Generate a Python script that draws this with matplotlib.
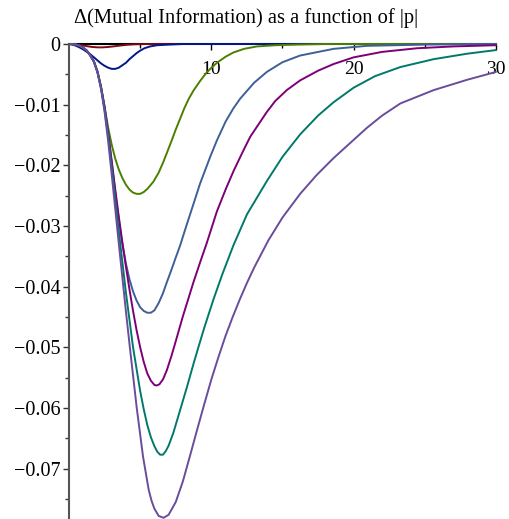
import numpy as np
import matplotlib
matplotlib.use("Agg")
import matplotlib.pyplot as plt
from matplotlib.ticker import FuncFormatter

# values, one curve per list
x_red = [0, 0.3, 0.6, 0.9, 1.24, 1.6, 2.0, 2.3, 2.7, 3.1, 3.6, 4.1, 4.6, 5.5, 30]
y_red = [0, -0.00003, -0.0001, -0.0002, -0.00035, -0.00048, -0.00055, -0.00056, -0.0005,
         -0.0004, -0.00025, -0.00013, -0.00005, 0, 0]

x_navy = [0, 0.25, 0.5, 0.77, 1.0, 1.25, 1.5, 1.75, 2.0, 2.25, 2.5, 2.75, 3.0, 3.25, 3.5, 3.75,
          4.0, 4.25, 4.5, 4.75, 5.0, 5.3, 5.7, 6.2, 7.0, 8.0, 30]
y_navy = [0, -0.0001, -0.0003, -0.0006, -0.0009, -0.0013, -0.0017, -0.0022, -0.0027, -0.0032,
          -0.0036, -0.0039, -0.0041, -0.0041, -0.0039, -0.0035, -0.0031, -0.0025, -0.0020,
          -0.0015, -0.0011, -0.0007, -0.0004, -0.0002, -0.0001, 0, 0]

x_green = [0, 0.25, 0.5, 0.75, 1.0, 1.25, 1.5, 1.75, 2.0, 2.25, 2.5, 2.75, 3.0, 3.25, 3.5, 3.75,
           4.0, 4.25, 4.5, 4.75, 5.0, 5.25, 5.5, 5.93, 6.3, 6.6, 6.87, 7.2, 7.5, 7.81, 8.1, 8.4,
           8.74, 9.21, 9.6, 9.92, 10.39, 11.0, 11.55, 12.3, 13.2, 14.5, 16, 18, 30]
y_green = [0, -0.00002, -0.0001, -0.0003, -0.0006, -0.0011, -0.0019, -0.0029, -0.0045, -0.0070,
           -0.0104, -0.0138, -0.0166, -0.0189, -0.0207, -0.0221, -0.0232, -0.0240, -0.0245,
           -0.0247, -0.0247, -0.0244, -0.0239, -0.0227, -0.0212, -0.0196, -0.0180, -0.0160,
           -0.0141, -0.0123, -0.0106, -0.0091, -0.0077, -0.0061, -0.0049, -0.0041, -0.0031,
           -0.0021, -0.0014, -0.0008, -0.0004, -0.0002, -0.0001, 0, 0]

x_steel = [0, 0.25, 0.5, 0.75, 1.0, 1.25, 1.5, 1.75, 2.0, 2.25, 2.5, 2.75, 3.0, 3.25, 3.5, 3.75,
           4.0, 4.25, 4.5, 4.75, 5.0, 5.25, 5.5, 5.75, 6.0, 6.3, 6.6, 6.87, 7.2, 7.5, 7.81, 8.2,
           8.63, 9.21, 9.92, 10.39, 11.0, 11.55, 12.03, 13.0, 13.9, 15.0, 16.24, 18.59, 20.94,
           25, 30]
y_steel = [0, -0.00002, -0.0001, -0.0003, -0.0006, -0.0011, -0.0019, -0.0029, -0.0046, -0.0071,
           -0.0103, -0.0145, -0.0195, -0.0245, -0.0290, -0.0330, -0.0362, -0.0388, -0.0408,
           -0.0423, -0.0434, -0.0440, -0.0443, -0.0443, -0.0439, -0.0427, -0.0411, -0.0393,
           -0.0372, -0.0352, -0.0332, -0.0303, -0.0272, -0.0230, -0.0186, -0.0159, -0.0128,
           -0.0106, -0.0090, -0.0064, -0.0046, -0.0030, -0.0019, -0.0008, -0.0003, -0.0001, 0]

x_purple = [0, 0.25, 0.5, 0.75, 1.0, 1.25, 1.5, 1.75, 2.0, 2.25, 2.5, 2.75, 3.0, 3.25, 3.5, 3.75,
            4.0, 4.25, 4.5, 4.75, 5.0, 5.25, 5.5, 5.75, 6.0, 6.15, 6.35, 6.6, 6.87, 7.2, 7.45,
            8.0, 8.74, 9.21, 9.68, 10.39, 11.0, 11.55, 12.2, 12.73, 13.9, 14.49, 15.3, 16.24,
            17.5, 18.59, 20.0, 22.0, 24.45, 27.0, 30]
y_purple = [0, -0.00002, -0.0001, -0.0003, -0.0006, -0.0011, -0.0019, -0.0029, -0.0046, -0.0072,
            -0.0105, -0.0147, -0.0193, -0.0240, -0.0285, -0.0327, -0.0367, -0.0405, -0.0440,
            -0.0472, -0.0500, -0.0524, -0.0543, -0.0555, -0.0562, -0.0563, -0.0561, -0.0553,
            -0.0538, -0.0514, -0.0494, -0.0449, -0.0393, -0.0360, -0.0328, -0.0276, -0.0240,
            -0.0210, -0.0178, -0.0153, -0.0112, -0.0094, -0.0076, -0.0060, -0.0044, -0.0033,
            -0.0022, -0.0013, -0.0007, -0.0004, -0.0002]

x_teal = [0, 0.25, 0.5, 0.75, 1.0, 1.25, 1.5, 1.75, 2.0, 2.25, 2.5, 2.75, 3.0, 3.25, 3.5, 4.0,
          4.5, 5.0, 5.25, 5.5, 5.75, 6.0, 6.2, 6.4, 6.6, 6.8, 7.0, 7.33, 7.75, 8.28, 8.75, 9.09,
          9.5, 10.15, 10.75, 11.55, 12.5, 13.9, 15.0, 16.24, 17.5, 18.59, 20.0, 21.5, 23.28,
          25.62, 27.97, 30]
y_teal = [0, -0.00002, -0.0001, -0.0003, -0.0006, -0.0011, -0.0019, -0.0029, -0.0046, -0.0072,
          -0.0108, -0.0152, -0.0203, -0.0256, -0.0309, -0.0410, -0.0500, -0.0572, -0.0602,
          -0.0628, -0.0648, -0.0663, -0.0672, -0.0677, -0.0677, -0.0671, -0.0662, -0.0641,
          -0.0608, -0.0566, -0.0527, -0.0500, -0.0468, -0.0421, -0.0381, -0.0332, -0.0281,
          -0.0226, -0.0186, -0.0149, -0.0118, -0.0096, -0.0072, -0.0053, -0.0038, -0.0025,
          -0.0016, -0.0010]

x_violet = [0, 0.25, 0.5, 0.75, 1.0, 1.25, 1.5, 1.75, 2.0, 2.25, 2.5, 2.75, 3.0, 3.25, 3.5, 4.0,
            4.29, 4.76, 5.2, 5.6, 5.8, 6.0, 6.3, 6.65, 7.0, 7.5, 8.0, 8.5, 9.0, 9.5, 10.0, 10.5,
            11.0, 11.5, 12.0, 12.5, 13.0, 14.0, 15.0, 16.24, 17.4, 18.59, 20.94, 22.0, 23.28,
            25.62, 27.97, 30]
y_violet = [0, -0.00002, -0.0001, -0.0003, -0.0006, -0.0011, -0.0019, -0.0029, -0.0047, -0.0074,
            -0.0112, -0.0160, -0.0215, -0.0272, -0.0329, -0.0441, -0.0503, -0.0600, -0.0680,
            -0.0735, -0.0753, -0.0766, -0.0778, -0.0781, -0.0776, -0.0755, -0.0721, -0.0679,
            -0.0636, -0.0594, -0.0553, -0.0516, -0.0481, -0.0450, -0.0421, -0.0394, -0.0369,
            -0.0324, -0.0286, -0.0247, -0.0216, -0.0188, -0.0138, -0.0118, -0.0098, -0.0076,
            -0.0059, -0.0046]

curves = [
    (x_red, y_red, "#7a0a14"),
    (x_navy, y_navy, "#00188c"),
    (x_green, y_green, "#4c7f00"),
    (x_steel, y_steel, "#3f5f97"),
    (x_purple, y_purple, "#7e0078"),
    (x_teal, y_teal, "#00796a"),
    (x_violet, y_violet, "#6a4c9c"),
]

plt.rcParams['font.family'] = ['Liberation Serif', 'DejaVu Serif']

fig = plt.figure(figsize=(5.10, 5.19), dpi=100)
ax = fig.add_axes([69 / 510, 0, 427 / 510, (519 - 44) / 519])

for xs, ys, c in curves:
    ax.plot(xs, ys, color=c, lw=1.4, clip_on=False, solid_joinstyle='round',
            solid_capstyle='round')

ax.set_xlim(0, 30)
ax.set_ylim(-0.0783, 0)

ax.spines['top'].set_visible(False)
ax.spines['right'].set_visible(False)
ax.spines['bottom'].set_position(('data', 0))
ax.spines['bottom'].set_color('black')
ax.spines['bottom'].set_linewidth(1.5)
ax.spines['left'].set_color('#555555')
ax.spines['left'].set_linewidth(1.5)
ax.spines['bottom'].set_zorder(1)

ax.set_xticks([10, 20, 30])
ax.set_xticks([5, 15, 25], minor=True)
ax.set_yticks([0, -0.01, -0.02, -0.03, -0.04, -0.05, -0.06, -0.07])
ax.set_yticks([-0.005, -0.015, -0.025, -0.035, -0.045, -0.055, -0.065, -0.075], minor=True)

ax.tick_params(axis='x', which='major', direction='out', length=4, width=1, labelsize=14, pad=8)
ax.tick_params(axis='x', which='minor', direction='out', length=3, width=1)
ax.tick_params(axis='y', which='major', direction='out', length=4, width=1, labelsize=14.5, pad=2,
               color='#333333')
ax.tick_params(axis='y', which='minor', direction='out', length=3, width=1, color='#333333')

def yfmt(v, pos):
    if abs(v) < 1e-12:
        return "0"
    return "\u2212" + ("%.2f" % abs(v))

ax.yaxis.set_major_formatter(FuncFormatter(yfmt))

fig.text(74 / 510, 1 - 18 / 519, "\u0394(Mutual Information) as a function of |p|",
         fontsize=14.8, va='center', ha='left')

fig.savefig("out.png", dpi=100)
